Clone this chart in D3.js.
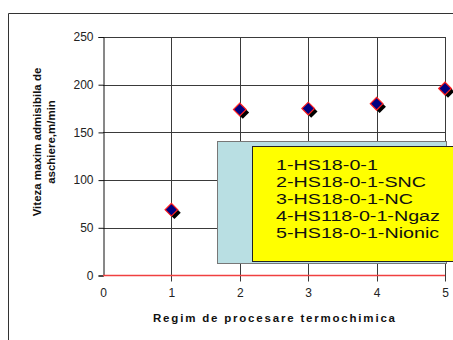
<!DOCTYPE html>
<html>
<head>
<meta charset="utf-8">
<script src="https://cdn.jsdelivr.net/npm/d3@7"></script>
<style>
  html, body { margin: 0; padding: 0; background: #fff; }
  svg { display: block; font-family: "Liberation Sans", Arial, sans-serif; }
</style>
</head>
<body>
<svg id="chart" width="453" height="340"></svg>
<script>
// Regimes of thermochemical processing and the max admissible cutting speed
const regimes = [1, 2, 3, 4, 5];
const speeds = [69, 174, 175, 180, 196];
const xTicks = [0, 1, 2, 3, 4, 5];
const yTicks = [0, 50, 100, 150, 200, 250];
const legendLabels = [
  "1-HS18-0-1",
  "2-HS18-0-1-SNC",
  "3-HS18-0-1-NC",
  "4-HS118-0-1-Ngaz",
  "5-HS18-0-1-Nionic"
];

const svg = d3.select("#chart");

// outer chart frame (open to the right and bottom)
svg.append("path")
  .attr("d", "M8.5,340 L8.5,13.5 L453,13.5")
  .attr("fill", "none")
  .attr("stroke", "#333")
  .attr("stroke-width", 1);

const x = d3.scaleLinear().domain([0, 5]).range([103, 445]);
const y = d3.scaleLinear().domain([0, 250]).range([275.5, 37]);

const plot = svg.append("g");

// horizontal gridlines
plot.selectAll("line.hgrid")
  .data(yTicks.filter(d => d > 0))
  .join("line")
  .attr("class", "hgrid")
  .attr("x1", x(0)).attr("x2", x(5))
  .attr("y1", d => Math.round(y(d)) + 0.5).attr("y2", d => Math.round(y(d)) + 0.5)
  .attr("stroke", "#3a3a3a");

// vertical gridlines
plot.selectAll("line.vgrid")
  .data(xTicks.filter(d => d > 0))
  .join("line")
  .attr("class", "vgrid")
  .attr("x1", d => Math.round(x(d)) + 0.5).attr("x2", d => Math.round(x(d)) + 0.5)
  .attr("y1", y(250)).attr("y2", y(0) + 6)
  .attr("stroke", "#3a3a3a");

// y axis
const yAxis = d3.axisLeft(y).tickValues(yTicks).tickSize(5).tickPadding(5).tickFormat(d3.format("d"));
const gy = svg.append("g").attr("transform", `translate(${Math.round(x(0)) + 0.5},0)`).call(yAxis);
gy.select(".domain").attr("stroke", "#111");
gy.selectAll(".tick line").attr("stroke", "#111");
gy.selectAll(".tick text")
  .attr("fill", "#222")
  .style("font-size", "12px")
  .style("font-family", "Liberation Sans, Arial, sans-serif");

// x axis labels
const xAxis = d3.axisBottom(x).tickValues(xTicks).tickSize(0).tickPadding(13).tickFormat(d3.format("d"));
const gx = svg.append("g").attr("transform", `translate(0,${y(0)})`).call(xAxis);
gx.select(".domain").remove();
gx.selectAll(".tick text")
  .attr("fill", "#222")
  .style("font-size", "12px")
  .style("font-family", "Liberation Sans, Arial, sans-serif");

// zero line in red
svg.append("line")
  .attr("x1", x(0)).attr("x2", x(5))
  .attr("y1", y(0)).attr("y2", y(0))
  .attr("stroke", "#f04040").attr("stroke-width", 1.3);

// data markers: navy diamonds with red outline and black drop shadow
const diamond = d3.symbol().type(d3.symbolSquare).size(80);
const pts = regimes.map((r, i) => ({ r, v: speeds[i] }));

svg.append("g").selectAll("path.shadow")
  .data(pts)
  .join("path")
  .attr("d", diamond)
  .attr("transform", d => `translate(${x(d.r) + 3},${y(d.v) + 3}) rotate(45)`)
  .attr("fill", "#000");

svg.append("g").selectAll("path.mark")
  .data(pts)
  .join("path")
  .attr("d", diamond)
  .attr("transform", d => `translate(${x(d.r)},${y(d.v)}) rotate(45)`)
  .attr("fill", "#000080")
  .attr("stroke", "#ff2020")
  .attr("stroke-width", 1.2);

// legend: light blue backdrop with a yellow label panel
svg.append("rect")
  .attr("x", 217.5).attr("y", 141.5)
  .attr("width", 229).attr("height", 122)
  .attr("fill", "#b9dfe3")
  .attr("stroke", "#777");

svg.append("rect")
  .attr("x", 252.5).attr("y", 146.5)
  .attr("width", 220).attr("height", 115)
  .attr("fill", "#ffff00")
  .attr("stroke", "#222");

// wide legend lettering
svg.append("g")
  .attr("transform", "translate(276,0) scale(1.36,1)")
  .selectAll("text")
  .data(legendLabels)
  .join("text")
  .attr("x", 0)
  .attr("y", (d, i) => 170 + i * 16.9)
  .attr("fill", "#111")
  .style("font-size", "14.5px")
  .text(d => d);

// axis titles
svg.append("text")
  .attr("transform", "translate(41,142) rotate(-90)")
  .attr("text-anchor", "middle")
  .style("font-size", "11.5px")
  .style("font-weight", "bold")
  .attr("fill", "#111")
  .text("Viteza maxim admisibila de");

svg.append("text")
  .attr("transform", "translate(54.5,142) rotate(-90)")
  .attr("text-anchor", "middle")
  .style("font-size", "11.5px")
  .style("font-weight", "bold")
  .attr("fill", "#111")
  .text("aschiere,m/min");

svg.append("text")
  .attr("x", 153)
  .attr("y", 322)
  .attr("textLength", 242)
  .attr("lengthAdjust", "spacing")
  .style("font-size", "11.5px")
  .style("font-weight", "bold")
  .attr("fill", "#111")
  .text("Regim de procesare termochimica");
</script>
</body>
</html>
